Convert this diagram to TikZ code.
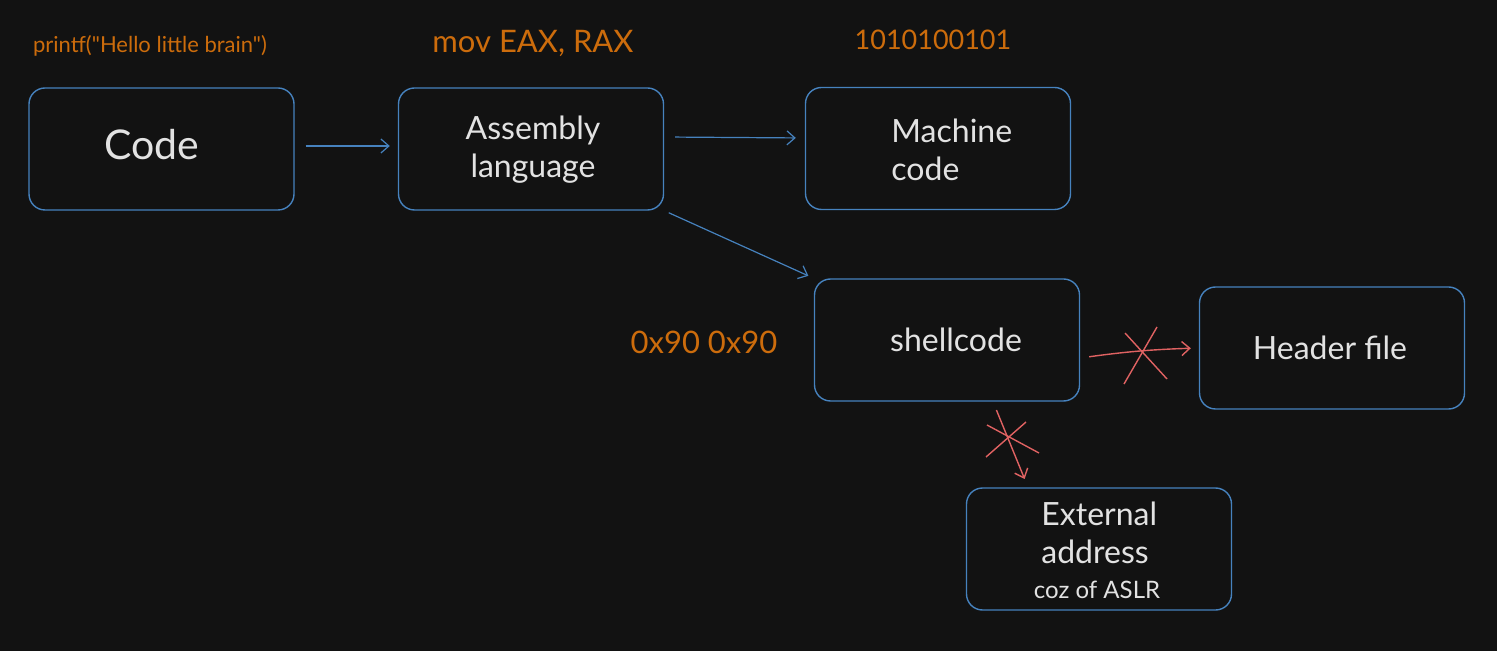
\documentclass[tikz,border=0pt]{standalone}
\usepackage{fontspec}
\setmainfont{Lato}
\newfontfamily\plainfont{Lato}[Ligatures=TeXOff]
\usetikzlibrary{arrows.meta}
\definecolor{bg}{HTML}{121212}
\definecolor{boxblue}{RGB}{70,130,190}
\definecolor{ink}{RGB}{226,226,226}
\definecolor{orng}{RGB}{204,108,12}
\definecolor{redx}{RGB}{224,98,98}
\tikzset{
  box/.style={draw=boxblue, line width=0.7pt, rounded corners=8pt,
    minimum width=132.5pt, minimum height=61pt, inner sep=0pt},
  txt/.style={text=ink, font=\fontsize{16}{19}\selectfont, inner sep=0pt},
  lbl/.style={text=orng, inner sep=0pt},
  arr/.style={draw=boxblue, line width=0.6pt, -{Straight Barb[length=4pt,width=7pt]}},
  rarr/.style={draw=redx, line width=0.7pt, -{Straight Barb[length=4pt,width=7pt]}},
  xmark/.style={draw=redx, line width=0.7pt}
}
\begin{document}
\begin{tikzpicture}[x=0.5pt,y=-0.5pt]
\fill[bg] (0,0) rectangle (1497,651);
\useasboundingbox (0,0) rectangle (1497,651);

% boxes
\node[box] (code)  at (161.5,149) {};
\node[box] (asm)   at (531,149) {};
\node[box] (mach)  at (938,148.5) {};
\node[box] (shell) at (947,340) {};
\node[box] (head)  at (1332,348) {};
\node[box] (ext)   at (1099,549) {};

% box texts
\node[txt, font=\fontsize{20.5}{24}\selectfont] (codet) at (152,145) {Code};
\node[txt, align=center] (asmt) at (533,150) {Assembly\\language};
\node[txt, align=left, anchor=west] (macht) at (891,150) {Machine\\code};
\node[txt] (shellt) at (956,340) {shellcode};
\node[txt] (headt) at (1330,348) {Header file};
\node[txt, align=left, anchor=west] (extt) at (1041,533) {External\\address};
\node[txt, font=\fontsize{12}{14}\selectfont] (cozt) at (1097,590) {coz of ASLR};

% orange labels
\node[lbl, font=\plainfont\fontsize{11}{13}\selectfont] (printf) at (150,46) {printf("Hello little brain")};
\node[lbl, font=\fontsize{15.5}{18}\selectfont] (mov) at (533,44) {mov EAX, RAX};
\node[lbl, font=\fontsize{13.5}{16}\selectfont] (bin) at (933,40) {1010100101};
\node[lbl, font=\fontsize{15.5}{18}\selectfont] (nop) at (704,342) {0x90 0x90};

% blue arrows
\draw[arr, shorten <=5.5pt, shorten >=4pt] ([yshift=1.5pt]code.east) -- ([yshift=1.5pt]asm.west);
\draw[arr, shorten <=5.5pt, shorten >=4.5pt] ([yshift=6pt]asm.east) -- ([yshift=5.25pt]mach.west);
\draw[arr, shorten <=2.5pt, shorten >=3pt] (asm.south east) -- (shell.north west);

% red arrows
\draw[rarr, shorten <=4.5pt, shorten >=4pt] ([yshift=-9pt]shell.east) to[bend left=3] (head.west);
\draw[rarr, shorten <=4.5pt, shorten >=4.5pt] ([xshift=23pt]shell.south) -- ([xshift=-35.5pt]ext.north);

% crosses
\draw[xmark] (1125,333) -- (1167,379);
\draw[xmark] (1157,327) -- (1124,384);
\draw[xmark] (987,425) -- (1039,453);
\draw[xmark] (1026,422) -- (986,457);
\end{tikzpicture}
\end{document}
